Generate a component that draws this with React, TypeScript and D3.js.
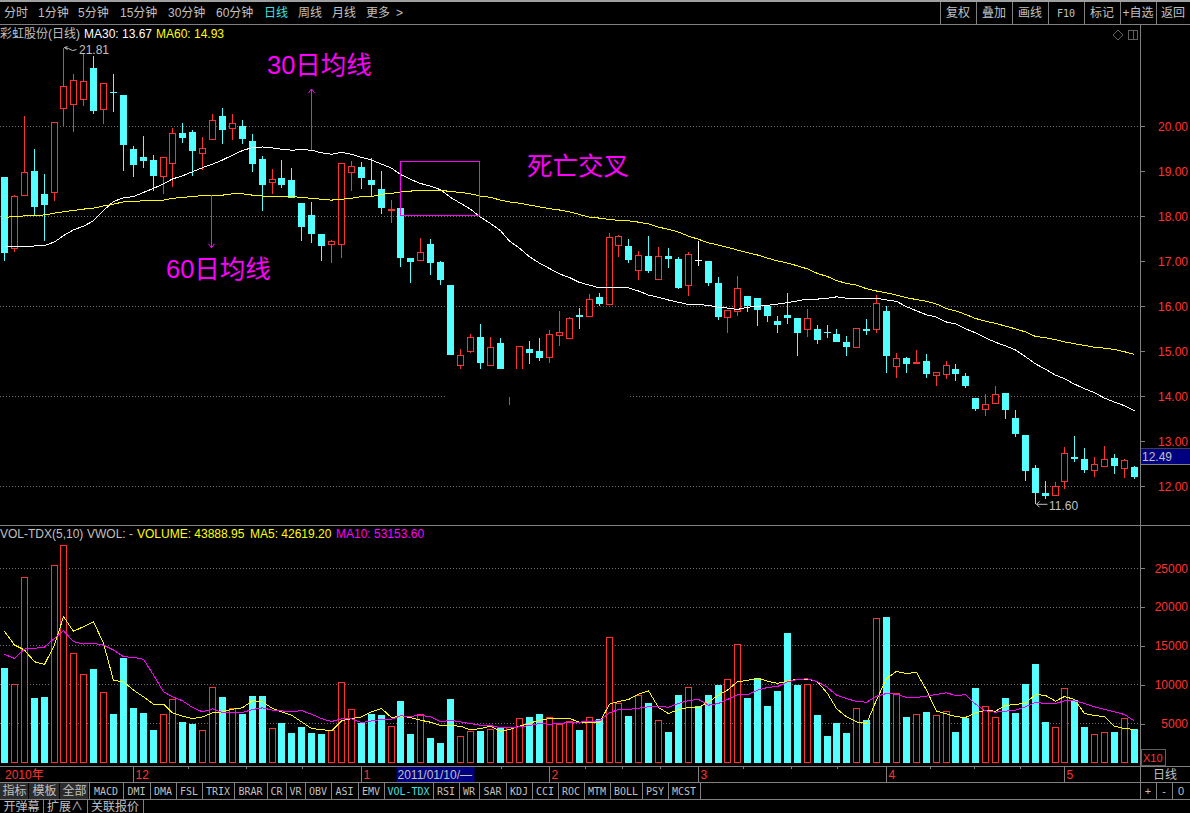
import * as d3 from "d3";
import { useEffect, useRef } from "react";

const WIDTH = 1190;
const HEIGHT = 813;
const PANEL_RIGHT = 1140;

const RED = "#ff3232";
const CYAN = "#54ffff";
const GREY = "#c0c0c0";
const LINE = "#808080";
const MAGENTA = "#ff00ff";
const SANS = '"Liberation Sans", "Noto Sans CJK SC", sans-serif';
const MONO = '"DejaVu Sans Mono", monospace';

const opens = [
  18.87, 17.29, 18.48, 19.01, 18.50, 18.53, 20.40, 20.48, 20.61, 21.30, 20.38, 20.76, 20.70, 19.50, 19.32, 19.25, 18.89, 19.17, 19.85, 19.87,
  19.40, 19.71, 20.24, 19.97, 20.01, 19.67, 19.27, 18.75, 18.85, 18.81, 18.30, 18.03, 17.61, 17.37, 17.39, 18.97, 19.10, 18.81, 18.61, 18.13,
  18.18, 17.07, 17.02, 17.39, 16.98, 16.47, 14.68, 14.99, 15.32, 14.68, 15.19, 14.10, 14.50, 15.05, 15.01, 14.86, 15.35, 15.28, 15.81, 15.79,
  16.21, 16.04, 17.37, 17.33, 16.80, 17.12, 16.60, 17.12, 17.05, 16.48, 17.02, 17.01, 16.52, 15.75, 15.88, 16.23, 16.19, 16.01, 15.67, 15.81,
  15.74, 15.49, 15.49, 15.43, 15.39, 15.21, 15.08, 15.50, 15.49, 15.90, 14.66, 14.85, 14.73, 14.79, 14.46, 14.48, 14.61, 14.45, 13.96, 13.70,
  13.84, 14.07, 13.52, 13.14, 12.41, 11.85, 11.79, 12.10, 12.65, 12.61, 12.35, 12.44, 12.63, 12.41, 12.43,
];
const closes = [
  17.19, 18.44, 18.98, 18.21, 18.26, 20.09, 20.88, 21.02, 21.00, 20.34, 20.96, 20.75, 19.59, 19.15, 19.23, 18.90, 19.31, 19.84, 19.74, 19.44,
  19.51, 20.13, 19.93, 20.07, 19.73, 19.17, 18.70, 18.82, 18.70, 18.41, 17.76, 17.61, 17.34, 17.44, 19.18, 19.11, 18.85, 18.70, 18.19, 18.16,
  17.06, 16.98, 17.20, 16.96, 16.59, 14.92, 14.91, 15.31, 14.75, 15.09, 14.55, 14.40, 15.11, 14.96, 14.85, 15.38, 15.42, 15.73, 15.77, 16.16,
  16.05, 17.53, 17.56, 17.01, 17.13, 16.79, 17.11, 17.06, 16.41, 17.16, 17.02, 16.53, 15.77, 15.91, 16.40, 16.00, 15.92, 15.79, 15.59, 15.74,
  15.41, 15.73, 15.25, 15.40, 15.21, 15.10, 15.51, 15.45, 16.07, 14.90, 14.84, 14.72, 14.76, 14.50, 14.53, 14.69, 14.50, 14.23, 13.72, 13.82,
  14.04, 13.70, 13.16, 12.34, 11.85, 11.79, 12.00, 12.73, 12.61, 12.37, 12.49, 12.60, 12.45, 12.58, 12.21,
];
const highs = [
  18.87, 18.47, 20.23, 19.50, 18.94, 20.09, 21.75, 21.16, 21.62, 21.56, 20.96, 21.16, 20.70, 19.56, 19.79, 19.36, 19.31, 19.96, 20.07, 19.92,
  19.76, 20.28, 20.41, 20.27, 20.14, 19.84, 19.34, 19.05, 19.25, 19.07, 18.30, 18.32, 17.61, 17.47, 19.18, 19.22, 19.20, 19.29, 19.01, 18.36,
  18.25, 17.07, 17.52, 17.50, 17.01, 16.47, 15.05, 15.39, 15.61, 15.32, 15.30, 14.50, 15.11, 15.23, 15.30, 15.47, 15.89, 15.76, 15.96, 16.27,
  16.29, 17.62, 17.58, 17.50, 17.23, 17.56, 17.32, 17.30, 17.10, 17.21, 17.45, 17.01, 16.65, 15.91, 16.67, 16.23, 16.19, 16.01, 15.79, 16.30,
  15.74, 15.94, 15.59, 15.59, 15.50, 15.34, 15.51, 15.72, 16.25, 16.00, 14.96, 14.87, 15.03, 14.94, 14.53, 14.79, 14.72, 14.52, 13.96, 14.05,
  14.23, 14.07, 13.70, 13.14, 12.47, 12.12, 12.10, 12.87, 13.12, 12.85, 12.65, 12.90, 12.72, 12.61, 12.45,
];
const lows = [
  17.01, 17.21, 18.48, 18.03, 17.46, 18.33, 20.01, 19.88, 20.45, 20.28, 20.05, 20.32, 19.01, 18.88, 19.08, 18.57, 18.50, 18.66, 19.62, 18.90,
  19.03, 19.70, 19.61, 19.70, 19.61, 18.98, 18.12, 18.50, 18.64, 18.40, 17.45, 17.41, 17.01, 16.96, 17.07, 18.57, 18.61, 18.44, 18.06, 17.85,
  16.88, 16.52, 17.02, 16.70, 16.47, 14.92, 14.55, 14.96, 14.55, 14.68, 14.50, 13.81, 14.40, 14.72, 14.79, 14.74, 15.12, 15.28, 15.50, 15.79,
  16.01, 16.04, 17.10, 16.97, 16.58, 16.74, 16.60, 16.85, 16.38, 16.23, 16.90, 16.45, 15.70, 15.41, 15.78, 15.87, 15.56, 15.65, 15.41, 15.61,
  14.90, 15.32, 15.16, 15.30, 15.21, 14.90, 15.08, 15.36, 15.41, 14.52, 14.41, 14.52, 14.73, 14.41, 14.23, 14.38, 14.34, 14.18, 13.67, 13.56,
  13.84, 13.50, 13.10, 12.12, 11.61, 11.72, 11.79, 11.94, 12.54, 12.30, 12.21, 12.44, 12.27, 12.18, 12.16,
];
const ma30 = [
  17.34, 17.33, 17.33, 17.34, 17.35, 17.43, 17.57, 17.70, 17.78, 17.90, 18.13, 18.33, 18.41, 18.44, 18.53, 18.62, 18.72, 18.83, 18.90, 18.99,
  19.08, 19.16, 19.25, 19.36, 19.46, 19.53, 19.54, 19.52, 19.49, 19.47, 19.48, 19.47, 19.41, 19.38, 19.42, 19.38, 19.31, 19.25, 19.16, 19.07,
  18.93, 18.82, 18.73, 18.67, 18.59, 18.42, 18.29, 18.16, 17.98, 17.84, 17.68, 17.45, 17.29, 17.10, 16.96, 16.84, 16.72, 16.64, 16.53, 16.47,
  16.41, 16.41, 16.42, 16.41, 16.34, 16.25, 16.20, 16.14, 16.09, 16.04, 16.04, 16.02, 15.98, 15.96, 15.93, 15.98, 16.00, 16.02, 16.05, 16.08,
  16.12, 16.16, 16.16, 16.18, 16.21, 16.18, 16.18, 16.18, 16.18, 16.14, 16.11, 15.99, 15.90, 15.81, 15.76, 15.65, 15.61, 15.50, 15.41, 15.30,
  15.20, 15.12, 15.03, 14.88, 14.72, 14.60, 14.47, 14.39, 14.27, 14.17, 14.08, 13.96, 13.87, 13.79, 13.68,
];
const ma60 = [
  17.98, 17.99, 18.01, 18.02, 18.03, 18.07, 18.10, 18.13, 18.16, 18.18, 18.23, 18.27, 18.32, 18.32, 18.35, 18.36, 18.36, 18.40, 18.42, 18.44,
  18.46, 18.47, 18.47, 18.50, 18.50, 18.47, 18.45, 18.44, 18.44, 18.44, 18.42, 18.40, 18.38, 18.36, 18.38, 18.40, 18.44, 18.44, 18.49, 18.51,
  18.54, 18.56, 18.58, 18.58, 18.58, 18.55, 18.53, 18.50, 18.45, 18.42, 18.36, 18.32, 18.29, 18.25, 18.21, 18.17, 18.14, 18.10, 18.04, 17.98,
  17.96, 17.93, 17.91, 17.90, 17.87, 17.83, 17.76, 17.71, 17.65, 17.56, 17.49, 17.41, 17.36, 17.31, 17.25, 17.19, 17.14, 17.07, 17.01, 16.96,
  16.90, 16.83, 16.73, 16.66, 16.57, 16.51, 16.47, 16.39, 16.34, 16.30, 16.25, 16.19, 16.15, 16.11, 16.05, 15.95, 15.90, 15.82, 15.73, 15.67,
  15.62, 15.56, 15.50, 15.43, 15.33, 15.30, 15.26, 15.21, 15.17, 15.13, 15.09, 15.07, 15.04, 14.99, 14.93,
];
const volumes = [
  12284, 10047, 23853, 8413, 8542, 25402, 27982, 14047, 11338, 12155, 9015, 6348, 13574, 7122, 6477, 4284, 6176, 8112, 5316, 5058,
  4112, 9660, 8542, 6950, 6348, 8671, 8671, 4370, 5187, 3897, 4671, 3897, 3768, 4112, 10305, 6821, 5187, 6348, 6219, 4628,
  8025, 3768, 6176, 3252, 2606, 8284, 3338, 3983, 4155, 4241, 4671, 4499, 5660, 5961, 6348, 5789, 4886, 5230, 4284, 5789,
  5703, 16112, 7596, 6090, 8628, 7768, 5402, 4026, 8800, 9660, 7381, 8800, 10090, 10692, 15208, 8413, 10778, 7381, 9316, 16671,
  10090, 10047, 6220, 3510, 5187, 3897, 6951, 5575, 18563, 18735, 8886, 5962, 6177, 6607, 6048, 6564, 4026, 5833, 9703, 7209,
  5790, 8413, 6478, 10220, 12800, 5316, 4499, 9532, 8155, 4671, 3596, 3854, 4026, 5661, 4413,
];
const volMa5 = [
  16886, 15122, 14477, 12972, 12628, 15122, 18778, 16886, 17488, 18133, 15337, 10563, 10391, 9316, 8456, 7509, 7509, 6391, 5961, 5660,
  5875, 6391, 6520, 6864, 7036, 7983, 7811, 6950, 6520, 6090, 5230, 4370, 4241, 4069, 5359, 5660, 5875, 6520, 6950, 5789,
  5961, 5789, 5445, 5187, 4757, 4757, 4671, 4198, 4370, 4671, 4026, 4241, 4671, 5058, 5445, 5660, 5660, 5660, 5187, 5101,
  5144, 7509, 7854, 8112, 8800, 9230, 7079, 6305, 6821, 7079, 7079, 7811, 8671, 9316, 10391, 10563, 10864, 10477, 10176, 10477,
  10736, 10736, 10392, 8886, 6951, 5875, 5230, 5015, 8026, 10822, 11725, 11467, 11596, 9316, 6607, 6263, 5919, 5789, 6392, 6693,
  6607, 7338, 7467, 7639, 8757, 8628, 7897, 8499, 8112, 6306, 6048, 5919, 4671, 4370, 4262,
];
const volMa10 = [
  13918, 13402, 14606, 14692, 14864, 15982, 16972, 15552, 15251, 15337, 15122, 14477, 13617, 13531, 13273, 11251, 9101, 8456, 7940, 7079,
  6520, 6907, 6434, 6434, 6434, 6821, 7036, 6735, 6649, 6520, 6692, 6219, 5660, 5273, 5617, 5617, 5144, 5359, 5531, 5574,
  6004, 5918, 6090, 5875, 5230, 5445, 5230, 5015, 4800, 4757, 4456, 4456, 4585, 4757, 5015, 4929, 5015, 5187, 5187, 5316,
  5359, 6391, 6821, 6821, 6993, 7165, 7208, 7122, 7595, 7983, 8112, 7380, 7595, 8112, 8714, 8714, 9316, 9660, 9789, 10391,
  10693, 10779, 10392, 9660, 8671, 8241, 7854, 7768, 8542, 8886, 8800, 8370, 8370, 8542, 8757, 8972, 8628, 8714, 7510, 6650,
  6478, 6607, 6736, 7166, 7725, 7596, 7596, 7940, 7940, 7596, 7166, 6822, 6521, 6177, 5315,
];

const priceTicks = [20, 19, 18, 17, 16, 15, 14, 13, 12];
const priceGrid = [20, 18, 16, 14, 12];
const volumeTicks = [25000, 20000, 15000, 10000, 5000];

const periodTabs = ["分时", "1分钟", "5分钟", "15分钟", "30分钟", "60分钟", "日线", "周线", "月线", "更多", ">"];
const periodStarts = [4, 38, 78, 120, 168, 216, 264, 298, 332, 366, 396];
const toolButtons = ["复权", "叠加", "画线", "F10", "标记", "+自选", "返回"];
const toolEdges = [940, 976, 1012, 1048, 1084, 1120, 1156, 1190];
const indicatorTabs = ["指标", "模板", "全部", "MACD", "DMI", "DMA", "FSL", "TRIX", "BRAR", "CR", "VR", "OBV", "ASI", "EMV", "VOL-TDX", "RSI", "WR", "SAR", "KDJ", "CCI", "ROC", "MTM", "BOLL", "PSY", "MCST"];
const indicatorEdges = [0, 29, 60, 89, 123, 150, 176, 202, 234, 267, 286, 305, 331, 358, 384, 433, 459, 479, 506, 532, 558, 584, 610, 642, 668, 700];
const bottomTabs = ["开弹幕", "扩展∧", "关联报价"];
const bottomEdges = [0, 43, 87, 143];
const monthLabels = [
  { index: 13, label: "12" },
  { index: 36, label: "1" },
  { index: 55, label: "2" },
  { index: 70, label: "3" },
  { index: 89, label: "4" },
  { index: 107, label: "5" },
];
const minorDateTicks = [18.6, 24.4, 30.1, 50.1, 58.6, 62.4, 66.2, 74.6, 79.4, 84.1, 93.4, 97.9, 102.5];
const stepCells = ["+", "-", "0"];
const stepEdges = [1140, 1156, 1172, 1190];

type G = d3.Selection<SVGGElement, unknown, null, undefined>;

function label(
  g: G,
  x: number,
  y: number,
  text: string,
  fill = GREY,
  size = 12,
  anchor = "start",
  family = SANS,
) {
  return g
    .append("text")
    .attr("x", x)
    .attr("y", y)
    .attr("fill", fill)
    .attr("font-size", size)
    .attr("font-family", family)
    .attr("text-anchor", anchor)
    .attr("dominant-baseline", "central")
    .text(text);
}

function rule(g: G, x1: number, y1: number, x2: number, y2: number, stroke = LINE) {
  return g
    .append("line")
    .attr("x1", x1)
    .attr("y1", y1)
    .attr("x2", x2)
    .attr("y2", y2)
    .attr("stroke", stroke)
    .attr("shape-rendering", "crispEdges");
}

function drawChrome(g: G) {
  // Period bar along the top.
  g.append("rect").attr("width", WIDTH).attr("height", 2).attr("fill", "#a0a0a0");
  rule(g, 0, 24.5, WIDTH, 24.5);
  periodTabs.forEach((t, i) => {
    label(g, periodStarts[i], 13, t, t === "日线" ? "#40e0e0" : GREY, 12);
  });
  toolButtons.forEach((t, i) => {
    rule(g, toolEdges[i] + 0.5, 2, toolEdges[i] + 0.5, 24);
    const mid = (toolEdges[i] + toolEdges[i + 1]) / 2;
    label(g, mid, 13, t, GREY, t === "F10" ? 10 : 12, "middle", t === "F10" ? MONO : SANS);
  });

  // Indicator tabs and the row below them.
  rule(g, 0, 766.5, WIDTH, 766.5);
  rule(g, 0, 782.5, WIDTH, 782.5);
  rule(g, 0, 799.5, WIDTH, 799.5);
  indicatorTabs.forEach((t, i) => {
    const x0 = indicatorEdges[i];
    const x1 = indicatorEdges[i + 1];
    if (i < 3) {
      g.append("rect")
        .attr("x", x0)
        .attr("y", 783)
        .attr("width", x1 - x0 - 1)
        .attr("height", 16)
        .attr("fill", "#2c2c2c");
    }
    rule(g, x1 + 0.5, 782, x1 + 0.5, 799);
    const cjk = i < 3;
    label(g, (x0 + x1) / 2, 791, t, t === "VOL-TDX" ? "#40e0e0" : GREY, cjk ? 12 : 10, "middle", cjk ? SANS : MONO);
  });
  bottomTabs.forEach((t, i) => {
    rule(g, bottomEdges[i + 1] + 0.5, 799, bottomEdges[i + 1] + 0.5, 813);
    label(g, (bottomEdges[i] + bottomEdges[i + 1]) / 2, 807, t, GREY, 12, "middle");
  });

  stepCells.forEach((t, i) => {
    rule(g, stepEdges[i] + 0.5, 782, stepEdges[i] + 0.5, 799);
    label(g, (stepEdges[i] + stepEdges[i + 1]) / 2, 791, t, GREY, 11, "middle");
  });
  label(g, 1165, 775, "日线", GREY, 12, "middle");

  // Small window icons in the price header.
  g.append("path")
    .attr("d", "M1118 30 L1123 35 L1118 40 L1113 35 Z")
    .attr("fill", "none")
    .attr("stroke", "#606060");
  g.append("rect")
    .attr("x", 1128.5)
    .attr("y", 30.5)
    .attr("width", 9)
    .attr("height", 9)
    .attr("fill", "none")
    .attr("stroke", "#606060");
  rule(g, 1133.5, 30, 1133.5, 40, "#606060");
}

export default function App() {
  const svgRef = useRef<SVGSVGElement>(null);

  useEffect(() => {
    const svg = d3.select(svgRef.current);
    svg.selectAll("*").remove();
    const g = svg.append("g") as unknown as G;

    const xLin = d3.scaleLinear().domain([0, 114]).range([4.5, 1134.3]);
    // Bars sit on whole pixels, so every center lands on n + 0.5.
    const cx = (i: number) => Math.floor(xLin(i)) + 0.5;
    const yPrice = d3.scaleLinear().domain([12, 20]).range([486.3, 126.3]);
    const yVol = d3.scaleLinear().domain([0, 25000]).range([762.5, 568.3]);
    const snap = (v: number) => Math.floor(v) + 0.5;
    const index = d3.range(opens.length);

    // Vertical panel edge and panel separators.
    rule(g, PANEL_RIGHT + 0.5, 24, PANEL_RIGHT + 0.5, 799);
    rule(g, 0, 525.5, WIDTH, 525.5);

    // Dotted grids.
    const dotted = (target: G, ys: number[]) => {
      target
        .append("g")
        .selectAll("line")
        .data(ys)
        .join("line")
        .attr("x1", 0)
        .attr("x2", PANEL_RIGHT)
        .attr("y1", (d) => snap(d))
        .attr("y2", (d) => snap(d))
        .attr("stroke", "#707070")
        .attr("stroke-dasharray", "1 2")
        .attr("shape-rendering", "crispEdges");
    };
    dotted(g, priceGrid.map((p) => yPrice(p)));
    dotted(g, volumeTicks.map((v) => yVol(v)));

    // Candles.
    const candles = g.append("g").selectAll("g").data(index).join("g");
    const candleColor = (i: number) =>
      closes[i] > opens[i] ? RED : closes[i] < opens[i] ? CYAN : "#ffffff";
    candles
      .append("line")
      .attr("x1", (i) => cx(i))
      .attr("x2", (i) => cx(i))
      .attr("y1", (i) => yPrice(highs[i]))
      .attr("y2", (i) => yPrice(lows[i]))
      .attr("stroke", candleColor)
      .attr("shape-rendering", "crispEdges");
    candles
      .append("rect")
      .attr("x", (i) => cx(i) - (closes[i] > opens[i] ? 3 : 3.5))
      .attr("width", (i) => (closes[i] > opens[i] ? 6 : 7))
      .attr("y", (i) => {
        const top = yPrice(Math.max(opens[i], closes[i]));
        return closes[i] > opens[i] ? snap(top) : Math.round(top);
      })
      .attr("height", (i) => {
        const h = Math.abs(yPrice(opens[i]) - yPrice(closes[i]));
        return closes[i] > opens[i] ? Math.round(h) : Math.max(1, Math.round(h));
      })
      .attr("fill", (i) => (closes[i] > opens[i] ? "#000000" : candleColor(i)))
      .attr("stroke", (i) => (closes[i] > opens[i] ? RED : "none"))
      .attr("shape-rendering", "crispEdges");

    // The screenshot has a wiped strip under the low of this stretch.
    g.append("rect")
      .attr("x", 445)
      .attr("y", 369)
      .attr("width", 183)
      .attr("height", 28)
      .attr("fill", "#000000");

    const priceLine = d3
      .line<number>()
      .x((_, i) => cx(i))
      .y((d) => yPrice(d));
    g.append("path")
      .attr("d", priceLine(ma30) ?? "")
      .attr("fill", "none")
      .attr("stroke", "#ffffff")
      .attr("shape-rendering", "crispEdges");
    g.append("path")
      .attr("d", priceLine(ma60) ?? "")
      .attr("fill", "none")
      .attr("stroke", "#ffff00")
      .attr("shape-rendering", "crispEdges");

    // Volume bars.
    const bars = g.append("g").selectAll("rect").data(index).join("rect");
    bars
      .attr("x", (i) => cx(i) - (closes[i] > opens[i] ? 3 : 3.5))
      .attr("width", (i) => (closes[i] > opens[i] ? 6 : 7))
      .attr("y", (i) => snap(yVol(volumes[i])))
      .attr("height", (i) => yVol(0) - snap(yVol(volumes[i])))
      .attr("fill", (i) => (closes[i] > opens[i] ? "#000000" : CYAN))
      .attr("stroke", (i) => (closes[i] > opens[i] ? RED : "none"))
      .attr("shape-rendering", "crispEdges");

    const volLine = d3
      .line<number>()
      .x((_, i) => cx(i))
      .y((d) => yVol(d));
    g.append("path")
      .attr("d", volLine(volMa5) ?? "")
      .attr("fill", "none")
      .attr("stroke", "#ffff00")
      .attr("shape-rendering", "crispEdges");
    g.append("path")
      .attr("d", volLine(volMa10) ?? "")
      .attr("fill", "none")
      .attr("stroke", MAGENTA)
      .attr("shape-rendering", "crispEdges");

    // Right-hand axes.
    const styleAxis = (axis: d3.Selection<SVGGElement, unknown, null, undefined>) => {
      axis.select(".domain").remove();
      axis.selectAll("line").attr("stroke", LINE).attr("shape-rendering", "crispEdges");
      axis
        .selectAll("text")
        .attr("fill", RED)
        .attr("font-size", 12)
        .attr("font-family", SANS)
        .attr("text-anchor", "end")
        .attr("x", 47);
    };
    const priceAxis = g
      .append("g")
      .attr("transform", `translate(${PANEL_RIGHT + 1},0)`)
      .call(d3.axisRight(yPrice).tickValues(priceTicks).tickFormat(d3.format(".2f")).tickSize(4));
    styleAxis(priceAxis);
    const volAxis = g
      .append("g")
      .attr("transform", `translate(${PANEL_RIGHT + 1},0)`)
      .call(d3.axisRight(yVol).tickValues(volumeTicks).tickFormat(d3.format("d")).tickSize(4));
    styleAxis(volAxis);

    // Last price flag.
    g.append("rect").attr("x", 1141).attr("y", 449).attr("width", 49).attr("height", 15).attr("fill", "#000080");
    rule(g, 1141, 464.5, WIDTH, 464.5);
    rule(g, 1141, 448.5, WIDTH, 448.5, "#404040");
    label(g, 1142, 456.5, "12.49", GREY, 12);

    // X10 box.
    g.append("rect")
      .attr("x", 1141.5)
      .attr("y", 749.5)
      .attr("width", 24)
      .attr("height", 16)
      .attr("fill", "#000000")
      .attr("stroke", "#606060")
      .attr("shape-rendering", "crispEdges");
    label(g, 1143, 757.5, "X10", RED, 11);

    // Header rows.
    label(g, 0, 34, "彩虹股份(日线)", GREY, 12);
    label(g, 84, 34, "MA30: 13.67", "#ffffff", 12);
    label(g, 156, 34, "MA60: 14.93", "#ffff00", 12);
    label(g, 0, 534, "VOL-TDX(5,10)", GREY, 12);
    label(g, 87, 534, "VWOL: -", GREY, 12);
    label(g, 137, 534, "VOLUME: 43888.95", "#ffff00", 12);
    label(g, 250, 534, "MA5: 42619.20", "#ffff00", 12);
    label(g, 336, 534, "MA10: 53153.60", MAGENTA, 12);

    // Date row.
    label(g, 5, 775, "2010年", RED, 12);
    monthLabels.forEach((m) => {
      rule(g, cx(m.index), 767, cx(m.index), 782);
      label(g, cx(m.index) + 2, 775, m.label, RED, 12);
    });
    minorDateTicks.forEach((t) => rule(g, snap(xLin(t)), 767, snap(xLin(t)), 769));
    g.append("rect")
      .attr("x", cx(40) - 4)
      .attr("y", 767)
      .attr("width", 78)
      .attr("height", 15)
      .attr("fill", "#000080");
    label(g, cx(40) - 3, 775, "2011/01/10/—", GREY, 12);

    // High and low markers.
    g.append("path")
      .attr("d", `M${cx(6) + 1} ${yPrice(21.75)} l3 -1 m-3 1 l3 2 m-3 -2 l4 1 l4 2 l4 -1`)
      .attr("fill", "none")
      .attr("stroke", GREY);
    label(g, 79, 50, "21.81", GREY, 12);
    g.append("path")
      .attr("d", `M${cx(104) + 1} ${yPrice(11.6)} h11 m-11 0 l3 -3 m-3 3 l3 3`)
      .attr("fill", "none")
      .attr("stroke", GREY);
    label(g, 1049, 505.5, "11.60", GREY, 12);

    // Hand-drawn annotations.
    const upX = cx(31);
    const downX = cx(21) - 1;
    rule(g, upX, yPrice(19.47), upX, yPrice(20.83), MAGENTA);
    g.append("path")
      .attr("d", `M${upX - 3} ${yPrice(20.83) + 4} L${upX} ${yPrice(20.83)} L${upX + 3} ${yPrice(20.83) + 4}`)
      .attr("fill", "none")
      .attr("stroke", MAGENTA);
    rule(g, downX, yPrice(18.47), downX, yPrice(17.3), MAGENTA);
    g.append("path")
      .attr("d", `M${downX - 3} ${yPrice(17.3) - 4} L${downX} ${yPrice(17.3)} L${downX + 3} ${yPrice(17.3) - 4}`)
      .attr("fill", "none")
      .attr("stroke", MAGENTA);
    g.append("rect")
      .attr("x", cx(40))
      .attr("y", snap(yPrice(19.22)))
      .attr("width", cx(48) - cx(40) - 1)
      .attr("height", yPrice(18.01) - yPrice(19.22))
      .attr("fill", "none")
      .attr("stroke", MAGENTA)
      .attr("shape-rendering", "crispEdges");
    label(g, 267, 65, "30日均线", MAGENTA, 25.5);
    label(g, 166, 269, "60日均线", MAGENTA, 25.5);
    label(g, 527, 166, "死亡交叉", MAGENTA, 25.5);

    drawChrome(g);
  }, []);

  return (
    <svg
      ref={svgRef}
      width={WIDTH}
      height={HEIGHT}
      viewBox={`0 0 ${WIDTH} ${HEIGHT}`}
      style={{ position: "fixed", left: 0, top: 0, display: "block", background: "#000000" }}
    />
  );
}
